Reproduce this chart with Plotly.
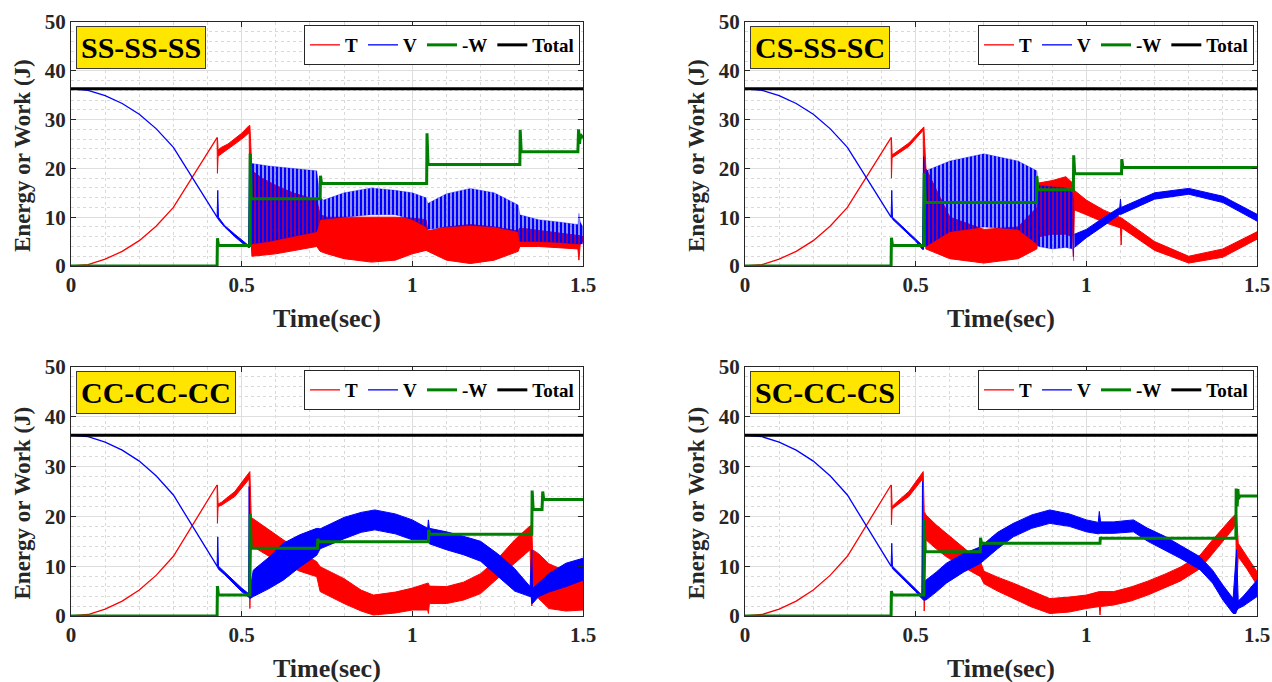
import plotly.graph_objects as go

# ---------------- data ----------------
panel_titles = ["SS-SS-SS", "CS-SS-SC", "CC-CC-CC", "SC-CC-CS"]
series_names = ["T", "V", "-W", "Total"]
x_ticks = [0, 0.5, 1, 1.5]
x_ticktext = ["0", "0.5", "1", "1.5"]
y_ticks = [0, 10, 20, 30, 40, 50]

# common smooth phase (0 .. 0.428 s)
t_early = [0, 0.05, 0.1, 0.15, 0.2, 0.25, 0.3, 0.35, 0.4, 0.428]
T_early = [0, 0.3, 1.4, 3.0, 5.2, 8.2, 12.0, 17.5, 23.0, 26.3]
V_early = [36.3, 36.0, 34.9, 33.3, 31.1, 28.1, 24.3, 18.8, 13.3, 10.0]

t_total = [0, 1.5]
total_val = [36.3, 36.3]

# ---- panel 1: SS-SS-SS ----
p1_T_t = [0.428, 0.429, 0.431, 0.44, 0.46, 0.48, 0.50, 0.522, 0.524, 0.53, 0.56, 0.60, 0.65, 0.72, 0.73, 0.75, 0.80, 0.88, 0.95, 1.00, 1.04, 1.045, 1.10, 1.17, 1.24, 1.31, 1.315, 1.37, 1.43, 1.485, 1.488, 1.492, 1.5]
p1_T_hi = [26.3, 26.3, 23.8, 24.3, 25.0, 26.2, 27.2, 28.8, 28.8, 19.5, 18.0, 16.5, 15.0, 13.5, 10.5, 10.0, 10.0, 10.0, 10.0, 9.8, 9.5, 7.2, 8.0, 8.5, 8.0, 7.2, 7.8, 7.3, 6.8, 6.2, 6.2, 6.2, 6.0]
p1_T_lo = [26.3, 19.0, 22.5, 23.0, 24.0, 25.0, 26.0, 27.3, 10.0, 2.0, 2.2, 2.5, 3.2, 4.0, 3.0, 2.5, 1.5, 0.8, 1.2, 2.5, 3.2, 3.0, 1.2, 0.5, 1.2, 3.0, 4.0, 4.0, 3.8, 3.5, 1.2, 4.5, 5.0]
p1_V_t = [0.428, 0.429, 0.430, 0.432, 0.45, 0.48, 0.50, 0.520, 0.523]
p1_V_hi = [10.0, 15.5, 15.5, 10.0, 8.3, 6.5, 5.3, 4.2, 23.0]
p1_V_lo = [10.0, 10.0, 10.0, 9.5, 8.0, 6.0, 4.8, 3.8, 3.8]
p1_Vosc_t = [0.524, 0.53, 0.58, 0.65, 0.72, 0.73, 0.74, 0.80, 0.88, 0.95, 1.00, 1.04, 1.045, 1.10, 1.17, 1.24, 1.31, 1.315, 1.37, 1.43, 1.485, 1.488, 1.492, 1.5]
p1_Vosc_hi = [22.0, 21.0, 20.5, 20.0, 19.5, 14.0, 13.5, 15.0, 16.0, 15.5, 15.0, 14.0, 12.8, 14.8, 15.9, 15.0, 12.5, 10.5, 9.5, 9.0, 8.5, 10.8, 9.0, 8.0]
p1_Vosc_lo = [4.0, 4.5, 5.0, 6.0, 7.0, 9.5, 9.5, 10.0, 10.5, 10.5, 9.5, 8.0, 7.5, 8.0, 8.3, 8.0, 7.0, 5.0, 5.0, 4.8, 4.5, 4.5, 4.5, 4.5]
p1_V2_t, p1_V2_hi, p1_V2_lo = [], [], []
p1_W_t = [0, 0.428, 0.429, 0.432, 0.524, 0.525, 0.528, 0.73, 0.731, 0.734, 1.042, 1.043, 1.046, 1.315, 1.316, 1.319, 1.485, 1.487, 1.490, 1.492, 1.5]
p1_W = [0, 0, 5.7, 4.2, 4.2, 23.0, 13.8, 13.8, 18.5, 16.9, 16.9, 27.2, 20.8, 20.8, 27.9, 23.4, 23.4, 28.0, 25.0, 27.0, 26.2]

# ---- panel 2: CS-SS-SC ----
p2_T_t = [0.428, 0.429, 0.431, 0.44, 0.48, 0.522, 0.524, 0.53, 0.60, 0.70, 0.80, 0.855, 0.86, 0.90, 0.94, 0.96, 0.962, 0.965, 1.00, 1.05, 1.10, 1.102, 1.104, 1.2, 1.3, 1.4, 1.5]
p2_T_hi = [26.3, 26.3, 22.8, 23.2, 25.2, 28.5, 28.5, 20.0, 10.0, 7.5, 8.0, 12.0, 17.0, 17.5, 18.3, 17.0, 17.0, 15.5, 13.5, 11.5, 9.8, 9.8, 9.8, 5.0, 2.0, 3.5, 7.0]
p2_T_lo = [26.3, 18.0, 22.2, 22.6, 24.5, 27.8, 10.0, 3.5, 1.5, 0.6, 1.5, 3.5, 6.0, 6.5, 6.5, 6.0, 1.9, 11.5, 10.5, 9.0, 7.8, 4.3, 7.8, 3.2, 0.6, 1.8, 5.5]
p2_V_t = [0.428, 0.429, 0.430, 0.432, 0.45, 0.48, 0.50, 0.520, 0.523]
p2_V_hi = [10.0, 15.5, 15.5, 10.0, 8.8, 6.8, 5.5, 4.2, 22.4]
p2_V_lo = [10.0, 10.0, 10.0, 9.6, 8.4, 6.4, 5.1, 3.4, 3.4]
p2_Vosc_t = [0.524, 0.53, 0.60, 0.70, 0.80, 0.855, 0.86, 0.90, 0.94, 0.96, 0.963]
p2_Vosc_hi = [22.4, 19.5, 21.5, 23.0, 21.5, 19.5, 16.5, 16.3, 16.0, 15.0, 13.0]
p2_Vosc_lo = [4.0, 4.0, 7.0, 8.0, 7.5, 4.5, 4.0, 3.5, 3.8, 3.5, 1.0]
p2_V2_t = [0.965, 1.00, 1.05, 1.098, 1.100, 1.102, 1.2, 1.3, 1.4, 1.5]
p2_V2_hi = [6.5, 7.5, 9.9, 12.0, 13.7, 12.0, 15.0, 15.9, 14.3, 10.6]
p2_V2_lo = [3.8, 5.8, 8.2, 10.6, 10.6, 10.6, 13.7, 14.7, 13.0, 9.2]
p2_W_t = [0, 0.428, 0.429, 0.432, 0.524, 0.525, 0.528, 0.854, 0.855, 0.858, 0.962, 0.963, 0.966, 1.103, 1.104, 1.107, 1.5]
p2_W = [0, 0, 5.8, 4.2, 4.2, 19.0, 13.0, 13.0, 18.4, 15.6, 15.6, 22.7, 18.9, 18.9, 21.9, 20.2, 20.2]

# ---- panel 3: CC-CC-CC ----
p3_T_t = [0.428, 0.429, 0.431, 0.44, 0.48, 0.522, 0.524, 0.528, 0.534, 0.58, 0.622, 0.67, 0.72, 0.73, 0.80, 0.85, 0.886, 0.95, 1.0, 1.045, 1.047, 1.05, 1.1, 1.15, 1.2, 1.25, 1.3, 1.345, 1.35, 1.352, 1.37, 1.40, 1.45, 1.5]
p3_T_hi = [26.3, 26.3, 22.5, 22.8, 25.0, 29.0, 29.0, 19.8, 19.5, 17.3, 15.3, 13.0, 10.9, 9.9, 7.5, 5.2, 4.2, 4.8, 5.6, 6.6, 6.6, 6.0, 5.9, 6.8, 8.5, 11.5, 15.3, 18.1, 18.1, 13.3, 12.5, 10.5, 9.0, 7.9]
p3_T_lo = [26.3, 18.6, 22.0, 22.2, 24.0, 27.5, 1.5, 14.0, 13.9, 12.0, 10.6, 9.0, 7.9, 4.9, 2.5, 1.0, 0.2, 0.6, 1.2, 1.2, 0.5, 2.5, 2.5, 3.2, 4.5, 7.5, 10.6, 13.3, 2.0, 4.5, 3.5, 1.5, 1.0, 1.2]
p3_V_t = [0.428, 0.429, 0.430, 0.432, 0.45, 0.48, 0.50, 0.520, 0.522, 0.524, 0.534, 0.58, 0.622, 0.67, 0.72, 0.73, 0.80, 0.85, 0.89, 0.95, 1.0, 1.045, 1.047, 1.05, 1.1, 1.15, 1.2, 1.25, 1.3, 1.345, 1.348, 1.35, 1.352, 1.37, 1.40, 1.45, 1.5]
p3_V_hi = [10.0, 15.9, 15.9, 10.0, 8.8, 7.0, 5.6, 4.5, 26.0, 5.0, 9.2, 11.8, 14.6, 16.3, 17.6, 17.5, 19.8, 20.8, 21.3, 20.5, 19.3, 17.6, 19.3, 17.6, 16.9, 16.0, 15.0, 12.5, 9.5, 5.9, 13.3, 13.3, 5.5, 6.6, 8.5, 10.6, 11.6]
p3_V_lo = [10.0, 10.0, 10.0, 9.4, 8.3, 6.3, 4.9, 3.8, 3.8, 3.5, 3.9, 5.5, 7.2, 9.8, 12.2, 13.5, 15.5, 16.8, 17.3, 16.5, 15.3, 15.3, 15.3, 14.5, 13.3, 12.3, 11.0, 8.0, 5.0, 3.9, 3.9, 2.5, 2.5, 3.9, 4.8, 5.9, 7.2]
p3_Vosc_t, p3_Vosc_hi, p3_Vosc_lo = [], [], []
p3_V2_t, p3_V2_hi, p3_V2_lo = [], [], []
p3_W_t = [0, 0.428, 0.429, 0.432, 0.524, 0.525, 0.528, 0.722, 0.723, 0.726, 1.047, 1.048, 1.051, 1.35, 1.351, 1.354, 1.38, 1.382, 1.385, 1.5]
p3_W = [0, 0, 6.0, 4.2, 4.2, 20.5, 13.6, 13.6, 15.5, 14.9, 14.9, 17.3, 16.4, 16.4, 25.2, 21.4, 21.4, 25.0, 23.4, 23.4]

# ---- panel 4: SC-CC-CS ----
p4_T_t = [0.428, 0.429, 0.431, 0.44, 0.48, 0.520, 0.522, 0.525, 0.53, 0.56, 0.59, 0.64, 0.69, 0.70, 0.74, 0.786, 0.84, 0.893, 0.95, 1.0, 1.038, 1.04, 1.042, 1.08, 1.13, 1.18, 1.23, 1.275, 1.333, 1.37, 1.43, 1.438, 1.440, 1.445, 1.47, 1.5]
p4_T_hi = [26.3, 26.3, 22.0, 22.6, 25.0, 29.0, 29.0, 21.0, 20.3, 18.3, 16.6, 13.8, 10.9, 9.0, 7.8, 6.6, 5.0, 3.5, 3.8, 4.2, 4.9, 4.9, 4.9, 4.9, 5.8, 7.0, 8.4, 9.8, 12.2, 15.3, 20.0, 20.5, 20.5, 14.6, 12.0, 8.9]
p4_T_lo = [26.3, 18.3, 21.5, 22.0, 24.0, 27.5, 27.5, 1.0, 15.3, 13.5, 11.9, 9.8, 7.9, 6.5, 5.0, 3.5, 1.8, 0.5, 0.8, 1.5, 1.9, 0.2, 1.9, 2.2, 3.0, 4.2, 5.6, 7.0, 9.5, 12.5, 17.5, 18.5, 5.0, 11.9, 9.5, 6.2]
p4_V_t = [0.428, 0.429, 0.430, 0.432, 0.45, 0.48, 0.50, 0.518, 0.520, 0.522, 0.53, 0.56, 0.59, 0.64, 0.69, 0.74, 0.786, 0.84, 0.893, 0.95, 1.0, 1.035, 1.038, 1.042, 1.08, 1.138, 1.18, 1.23, 1.275, 1.333, 1.37, 1.40, 1.43, 1.438, 1.440, 1.445, 1.46, 1.5]
p4_V_hi = [10.0, 14.6, 14.6, 10.0, 8.8, 6.8, 5.4, 4.2, 27.0, 5.0, 7.2, 8.8, 10.6, 12.5, 13.9, 16.8, 18.6, 20.3, 21.3, 20.5, 19.3, 18.8, 21.0, 18.9, 18.9, 19.3, 17.6, 16.0, 14.2, 11.9, 9.2, 6.2, 3.5, 13.3, 13.3, 3.0, 4.0, 7.2]
p4_V_lo = [10.0, 10.0, 10.0, 9.5, 8.3, 6.3, 4.9, 3.5, 3.5, 3.2, 3.2, 4.8, 6.6, 8.8, 10.6, 13.5, 15.9, 17.6, 18.6, 18.0, 16.9, 16.5, 16.5, 16.6, 16.6, 16.9, 15.0, 13.2, 11.6, 9.3, 6.6, 3.2, 0.5, 0.5, 1.0, 1.5, 2.0, 3.9]
p4_Vosc_t, p4_Vosc_hi, p4_Vosc_lo = [], [], []
p4_V2_t, p4_V2_hi, p4_V2_lo = [], [], []
p4_W_t = [0, 0.428, 0.429, 0.432, 0.524, 0.525, 0.528, 0.689, 0.690, 0.693, 1.04, 1.041, 1.044, 1.438, 1.439, 1.442, 1.444, 1.446, 1.449, 1.5]
p4_W = [0, 0, 5.0, 4.2, 4.2, 19.3, 12.9, 12.9, 15.7, 14.6, 14.6, 15.8, 15.6, 15.6, 25.6, 22.0, 25.5, 23.5, 24.1, 24.1]

panels = [
    (p1_T_t, p1_T_hi, p1_T_lo, p1_V_t, p1_V_hi, p1_V_lo, p1_Vosc_t, p1_Vosc_hi, p1_Vosc_lo, p1_V2_t, p1_V2_hi, p1_V2_lo, p1_W_t, p1_W),
    (p2_T_t, p2_T_hi, p2_T_lo, p2_V_t, p2_V_hi, p2_V_lo, p2_Vosc_t, p2_Vosc_hi, p2_Vosc_lo, p2_V2_t, p2_V2_hi, p2_V2_lo, p2_W_t, p2_W),
    (p3_T_t, p3_T_hi, p3_T_lo, p3_V_t, p3_V_hi, p3_V_lo, p3_Vosc_t, p3_Vosc_hi, p3_Vosc_lo, p3_V2_t, p3_V2_hi, p3_V2_lo, p3_W_t, p3_W),
    (p4_T_t, p4_T_hi, p4_T_lo, p4_V_t, p4_V_hi, p4_V_lo, p4_Vosc_t, p4_Vosc_hi, p4_Vosc_lo, p4_V2_t, p4_V2_hi, p4_V2_lo, p4_W_t, p4_W),
]

# ---------------- styling / layout ----------------
W_PX, H_PX = 1272, 682
FONT = "Liberation Serif, Times New Roman, serif"
RED, BLUE, GREEN, BLACK = "#FF0000", "#0000FF", "#008000", "#000000"

x_dom = [[71 / W_PX, 583 / W_PX], [745 / W_PX, 1257 / W_PX]]
y_dom = [[1 - 266 / H_PX, 1 - 22 / H_PX], [1 - 616 / H_PX, 1 - 367 / H_PX]]
panel_pos = [(0, 0), (1, 0), (0, 1), (1, 1)]  # (col, row)


def band(segs):
    xs, ys = [], []
    for t, hi, lo in segs:
        if not t:
            continue
        if xs:
            xs.append(None)
            ys.append(None)
        xs += list(t) + list(reversed(t))
        ys += list(hi) + list(reversed(lo))
    return xs, ys


fig = go.Figure()
annotations = []

for i, (Tt, Th, Tl, Vt, Vh, Vl, Ot, Oh, Ol, V2t, V2h, V2l, Wt, Wv) in enumerate(panels):
    n = i + 1
    xa = "x" if n == 1 else f"x{n}"
    ya = "y" if n == 1 else f"y{n}"
    lg = "legend" if n == 1 else f"legend{n}"
    common = dict(xaxis=xa, yaxis=ya, legend=lg, hoverinfo="skip")

    # T
    fig.add_trace(go.Scatter(x=t_early, y=T_early, mode="lines", name=series_names[0],
                             line=dict(color=RED, width=1.3), showlegend=True, **common))
    bx, by = band([(Tt, Th, Tl)])
    fig.add_trace(go.Scatter(x=bx, y=by, mode="lines", fill="toself", fillcolor=RED,
                             line=dict(color=RED, width=1), showlegend=False, **common))
    # V
    fig.add_trace(go.Scatter(x=t_early, y=V_early, mode="lines", name=series_names[1],
                             line=dict(color=BLUE, width=1.3), showlegend=True, **common))
    bx, by = band([(Vt, Vh, Vl), (V2t, V2h, V2l)])
    fig.add_trace(go.Scatter(x=bx, y=by, mode="lines", fill="toself", fillcolor=BLUE,
                             line=dict(color=BLUE, width=1), showlegend=False, **common))
    if Ot:
        bx, by = band([(Ot, Oh, Ol)])
        fig.add_trace(go.Scatter(x=bx, y=by, mode="lines", fill="toself",
                                 fillcolor="rgba(0,0,0,0)",
                                 fillpattern=dict(shape="|", fgcolor=BLUE, bgcolor="rgba(0,0,0,0)",
                                                  size=4, solidity=0.72, fillmode="replace"),
                                 line=dict(color="rgba(0,0,255,0.5)", width=0.6),
                                 showlegend=False, **common))
    # -W
    fig.add_trace(go.Scatter(x=Wt, y=Wv, mode="lines", name=series_names[2],
                             line=dict(color=GREEN, width=3), showlegend=True, **common))
    # Total
    fig.add_trace(go.Scatter(x=t_total, y=total_val, mode="lines", name=series_names[3],
                             line=dict(color=BLACK, width=3), showlegend=True, **common))

    col, row = panel_pos[i]
    xd, yd = x_dom[col], y_dom[row]
    axis_common = dict(showline=True, linecolor="#262626", linewidth=1, mirror="ticks",
                       ticks="inside", ticklen=5, tickcolor="#262626", automargin=False,
                       showgrid=True, gridcolor="#dedede", gridwidth=1, zeroline=False,
                       tickfont=dict(family=FONT, size=21, color="#262626", weight="bold"))
    fig.layout[f"xaxis{'' if n == 1 else n}"] = dict(
        domain=xd, anchor=ya, range=[0, 1.5], tickvals=x_ticks, ticktext=x_ticktext,
        minor=dict(dtick=0.1, tick0=0, showgrid=True, gridcolor="#d9d9d9", griddash="dot", ticks=""),
        **axis_common)
    fig.layout[f"yaxis{'' if n == 1 else n}"] = dict(
        domain=yd, anchor=xa, range=[0, 50], tickvals=y_ticks,
        minor=dict(dtick=2, tick0=0, showgrid=True, gridcolor="#d9d9d9", griddash="dot", ticks=""),
        **axis_common)

    # legend per panel
    fig.layout[lg] = dict(
        orientation="h", x=xd[1] - 3 / W_PX, y=yd[1] - 3 / H_PX, xanchor="right", yanchor="top",
        bgcolor="white", bordercolor="#262626", borderwidth=1,
        font=dict(family=FONT, size=19, color="black", weight="bold"),
        itemwidth=30, tracegroupgap=0, traceorder="normal")

    # panel title box
    annotations.append(dict(
        text=f"<b>{panel_titles[i]}</b>", xref="paper", yref="paper",
        x=xd[0] + 5 / W_PX, y=yd[1] - 4 / H_PX, xanchor="left", yanchor="top",
        showarrow=False, bgcolor="#FFE600", bordercolor="#3a3a3a", borderwidth=1, borderpad=4,
        font=dict(family=FONT, size=30, color="black")))
    # axis titles
    annotations.append(dict(
        text="<b>Energy or Work (J)</b>", xref="paper", yref="paper",
        x=xd[0] - 49 / W_PX, y=(yd[0] + yd[1]) / 2 - 12 / H_PX, xanchor="center", yanchor="middle",
        textangle=-90, showarrow=False, font=dict(family=FONT, size=23, color="#262626")))
    annotations.append(dict(
        text="<b>Time(sec)</b>", xref="paper", yref="paper",
        x=(xd[0] + xd[1]) / 2, y=yd[0] - 52 / H_PX, xanchor="center", yanchor="middle",
        showarrow=False, font=dict(family=FONT, size=26, color="#262626")))

fig.update_layout(
    width=W_PX, height=H_PX, margin=dict(l=0, r=0, t=0, b=0, autoexpand=False),
    paper_bgcolor="white", plot_bgcolor="white",
    annotations=annotations, hovermode=False,
)

fig.write_html("out.html", config={"displayModeBar": False},
               post_script="document.body.style.margin='0';document.body.style.overflow='hidden';")
